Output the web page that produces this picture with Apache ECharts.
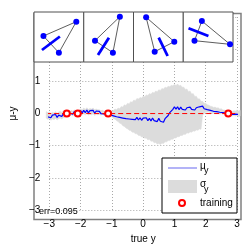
<!DOCTYPE html>
<html><head><meta charset="utf-8">
<script src="https://cdn.jsdelivr.net/npm/echarts@6/dist/echarts.min.js"></script>
<style>html,body{margin:0;padding:0;background:#fff}#c{width:249px;height:249px}</style>
</head><body><div id="c"></div>
<script>
// ---- data ----
const xs = [-3.1,-3.05,-3,-2.95,-2.9,-2.85,-2.8,-2.75,-2.7,-2.65,-2.6,-2.55,-2.5,-2.45,-2.4,-2.35,-2.3,-2.25,-2.2,-2.15,-2.1,-2.05,-2,-1.95,-1.9,-1.85,-1.8,-1.75,-1.7,-1.65,-1.6,-1.55,-1.5,-1.45,-1.4,-1.35,-1.3,-1.25,-1.2,-1.15,-1.1,-1.05,-1,-0.95,-0.9,-0.85,-0.8,-0.75,-0.7,-0.65,-0.6,-0.55,-0.5,-0.45,-0.4,-0.35,-0.3,-0.25,-0.2,-0.15,-0.1,-0.05,0,0.05,0.1,0.15,0.2,0.25,0.3,0.35,0.4,0.45,0.5,0.55,0.6,0.65,0.7,0.75,0.8,0.85,0.9,0.95,1,1.05,1.1,1.15,1.2,1.25,1.3,1.35,1.4,1.45,1.5,1.55,1.6,1.65,1.7,1.75,1.8,1.85,1.9,1.95,2,2.05,2.1,2.15,2.2,2.25,2.3,2.35,2.4,2.45,2.5,2.55,2.6,2.65,2.7,2.75,2.8,2.85,2.9,2.95,3,3.05,3.1];
const mu = [-0.02,-0.1,-0.04,-0.13,-0.05,-0.11,-0.03,-0.12,-0.05,-0.02,-0.09,0.0,-0.05,
0.02,-0.02,0.01,0.04,-0.02,0.06,0.0,0.03,0.01,0.09,0.02,0.1,0.03,0.11,0.02,0.09,0.03,0.1,0.01,0.08,0.02,0.07,0.0,0.06,-0.01,0.05,-0.02,0.03,-0.04,0.01,
-0.07,-0.01,-0.1,-0.06,-0.12,-0.08,-0.14,-0.09,-0.16,-0.11,-0.17,-0.12,-0.18,-0.13,-0.19,-0.12,-0.2,-0.13,-0.21,-0.14,-0.2,-0.13,-0.22,-0.15,-0.23,-0.14,-0.22,-0.16,-0.25,-0.15,-0.24,-0.19,-0.27,-0.16,-0.1,
-0.06,0.03,-0.01,0.13,0.21,
0.14,0.21,0.12,0.2,0.13,0.19,0.11,0.18,0.12,0.2,0.13,0.19,0.11,0.18,0.12,0.21,0.15,0.23,0.15,0.2,
0.12,0.17,0.1,0.15,0.07,0.13,0.06,0.12,0.04,0.1,0.03,0.08,0.01,0.04,-0.02,0.04,-0.03,0.03,-0.02,0.04,-0.03,0.02];
const bandHigh = [0.06,0.03,0.05,0.0,0.04,0.02,0.06,0.01,0.05,0.07,0.04,0.09,0.08,
0.06,0.07,0.05,0.1,0.07,0.11,0.08,0.06,0.1,0.15,0.12,0.17,0.13,0.18,0.13,0.16,0.14,0.17,0.12,0.14,0.12,0.12,0.09,0.1,0.07,0.08,0.05,0.07,0.06,0.08,
0.1,0.14,0.12,0.17,0.15,0.22,0.2,0.27,0.25,0.32,0.3,0.37,0.35,0.42,0.4,0.47,0.45,0.5,0.48,0.54,0.52,0.58,0.56,0.62,0.6,0.66,0.64,0.7,0.68,0.74,0.72,0.78,0.76,0.82,0.8,
0.85,0.83,0.88,0.86,0.91,0.87,0.92,0.86,0.88,0.82,0.82,0.75,0.76,0.68,0.7,0.61,0.62,0.53,0.54,0.45,0.46,0.38,0.38,0.32,0.32,
0.27,0.26,0.23,0.22,0.19,0.2,0.17,0.18,0.14,0.15,0.11,0.11,0.08,0.06,0.05,0.08,0.06,0.09,0.08,0.11,0.08,0.1];
const bandLow = [-0.14,-0.18,-0.16,-0.21,-0.17,-0.19,-0.15,-0.2,-0.16,-0.14,-0.17,-0.12,-0.13,
-0.06,-0.06,-0.09,-0.04,-0.07,-0.04,-0.06,-0.06,-0.04,-0.01,-0.04,-0.01,-0.04,0.0,-0.05,-0.02,-0.04,-0.01,-0.06,-0.02,-0.04,-0.02,-0.05,-0.02,-0.05,-0.02,-0.05,-0.05,-0.1,-0.1,
-0.15,-0.17,-0.22,-0.25,-0.3,-0.32,-0.38,-0.4,-0.45,-0.47,-0.52,-0.53,-0.58,-0.58,-0.63,-0.63,-0.68,-0.68,-0.73,-0.72,-0.77,-0.76,-0.82,-0.8,-0.86,-0.85,-0.91,-0.9,-0.95,-0.93,-0.96,-0.92,-0.93,-0.88,-0.88,
-0.84,-0.84,-0.8,-0.8,-0.76,-0.76,-0.72,-0.72,-0.68,-0.68,-0.64,-0.65,-0.6,-0.61,-0.57,-0.58,-0.54,-0.55,-0.51,-0.52,-0.48,-0.49,-0.05,0.0,0.04,
0.04,0.05,0.02,0.03,0.0,0.02,0.0,0.02,-0.02,0.0,-0.02,-0.01,-0.03,-0.03,-0.05,-0.03,-0.08,-0.06,-0.08,-0.06,-0.1,-0.08];
const trainX = [-2.44, -2.09, -1.12, 2.72];
const trainY = [0, 0, 0, 0];
const trueLineX = [-3.1, 3.1];
const trueLineY = [0, 0];
const errText = 'err=0.095';
// top panels (normalised 0..1 coordinates inside each panel)
const panel1Dots = [[0.85,0.806],[0.19,0.52],[0.50,0.186]];
const panel2Dots = [[0.726,0.906],[0.226,0.426],[0.586,0.186]];
const panel3Dots = [[0.254,0.894],[0.82,0.406],[0.426,0.206]];
const panel4Dots = [[0.374,0.82],[0.226,0.426],[0.94,0.354]];
const panel1Bar = [[0.16,0.24],[0.52,0.51]];
const panel2Bar = [[0.286,0.14],[0.506,0.486]];
const panel3Bar = [[0.506,0.486],[0.686,0.12]];
const panel4Bar = [[0.106,0.674],[0.506,0.52]];

// ---- chart ----
const FONT = 'Liberation Sans, Arial, sans-serif';
const chart = echarts.init(document.getElementById('c'), null, {renderer: 'canvas'});
const minus = v => String(v).replace('-', '\u2212');

const panelDots = [panel1Dots, panel2Dots, panel3Dots, panel4Dots];
const panelBars = [panel1Bar, panel2Bar, panel3Bar, panel4Bar];
const panelLefts = [34, 83.75, 133.5, 183.25];

const grids = [
  {left: 34, right: 8, top: 13.5, bottom: 29.5, show: true, backgroundColor: 'transparent', borderColor: '#808080', borderWidth: 1.5},
  {left: 37.5, right: 12, top: 17, bottom: 33}
];
const xAxes = [
  {gridIndex: 0, type: 'value', min: 0, max: 1, show: false},
  {gridIndex: 1, type: 'value', min: -3, max: 3, interval: 1,
   axisLine: {show: false}, axisTick: {show: false},
   splitLine: {show: true, lineStyle: {color: '#a8a8a8', type: [1, 2], width: 1}},
   axisLabel: {formatter: minus, color: '#000', fontSize: 10, fontFamily: FONT, margin: 9},
   name: 'true y', nameLocation: 'middle', nameGap: 20,
   nameTextStyle: {color: '#000', fontSize: 10, fontFamily: FONT}}
];
const yAxes = [
  {gridIndex: 0, type: 'value', min: 0, max: 1, show: false},
  {gridIndex: 1, type: 'value', min: -3, max: 3, interval: 1,
   axisLine: {show: false}, axisTick: {show: false},
   splitLine: {show: true, lineStyle: {color: '#a8a8a8', type: [1, 2], width: 1}},
   axisLabel: {formatter: minus, color: '#000', fontSize: 10, fontFamily: FONT, margin: 9},
   name: '\u03bc-y', nameLocation: 'middle', nameGap: 25, nameRotate: 90,
   nameTextStyle: {color: '#000', fontSize: 10, fontFamily: FONT}}
];
const series = [
  {type: 'custom', xAxisIndex: 1, yAxisIndex: 1, name: 'sigma', z: 2, silent: true,
   data: [[xs[0], bandLow[0]]],
   renderItem: function (params, api) {
     if (params.dataIndex !== 0) return;
     const pts = [];
     for (let i = 0; i < xs.length; i++) pts.push(api.coord([xs[i], bandHigh[i]]));
     for (let i = xs.length - 1; i >= 0; i--) pts.push(api.coord([xs[i], bandLow[i]]));
     return {type: 'polygon', shape: {points: pts}, style: {fill: '#dcdcdc', stroke: '#dcdcdc', lineWidth: 0.5}};
   }},
  {type: 'line', xAxisIndex: 1, yAxisIndex: 1, name: 'mu',
   data: xs.map((x, i) => [x, mu[i]]), symbol: 'none', lineStyle: {color: '#0000ff', width: 1.2}, clip: false, z: 3},
  {type: 'line', xAxisIndex: 1, yAxisIndex: 1, name: 'true',
   data: trueLineX.map((x, i) => [x, trueLineY[i]]), symbol: 'none',
   lineStyle: {color: '#ff0000', width: 1, type: [5, 3]}, clip: false, z: 4},
  {type: 'scatter', xAxisIndex: 1, yAxisIndex: 1, name: 'training',
   data: trainX.map((x, i) => [x, trainY[i]]), symbol: 'circle', symbolSize: 6,
   itemStyle: {color: '#fff', borderColor: '#ff0000', borderWidth: 2, opacity: 1}, z: 5}
];
panelDots.forEach((dots, p) => {
  const gi = grids.length;
  grids.push({left: panelLefts[p], top: 12, width: 49.75, height: 50, show: true,
    backgroundColor: '#fff', borderColor: '#505050', borderWidth: 1, z: 6});
  xAxes.push({gridIndex: gi, type: 'value', min: 0, max: 1, show: false});
  yAxes.push({gridIndex: gi, type: 'value', min: 0, max: 1, show: false});
  series.push({type: 'line', xAxisIndex: gi, yAxisIndex: gi, data: dots.concat([dots[0]]),
    symbol: 'none', lineStyle: {color: '#333', width: 0.8}, z: 10, silent: true});
  series.push({type: 'line', xAxisIndex: gi, yAxisIndex: gi, data: panelBars[p],
    symbol: 'none', lineStyle: {color: '#0000ff', width: 2.8, cap: 'butt'}, z: 11, silent: true});
  series.push({type: 'scatter', xAxisIndex: gi, yAxisIndex: gi, data: dots,
    symbolSize: 6, itemStyle: {color: '#0000ff', opacity: 1}, z: 12, silent: true});
});

const legendText = (x, y, t, size) => ({type: 'text', x: x, y: y, z: 100,
  style: {text: t, fill: '#000', font: size + 'px ' + FONT, textVerticalAlign: 'middle'}});

chart.setOption({
  animation: false,
  grid: grids, xAxis: xAxes, yAxis: yAxes, series: series,
  graphic: [
    {type: 'rect', z: 90, shape: {x: 162, y: 158, width: 75, height: 55},
     style: {fill: '#fff', stroke: '#000', lineWidth: 1}},
    {type: 'line', z: 100, shape: {x1: 168, y1: 168, x2: 197, y2: 168},
     style: {stroke: '#9a9af5', lineWidth: 1.5}},
    legendText(200, 166, '\u03bc', 10),
    legendText(204, 171, 'y', 9),
    {type: 'rect', z: 100, shape: {x: 168, y: 180, width: 29, height: 13},
     style: {fill: '#dcdcdc'}},
    legendText(200, 184, '\u03c3', 10),
    legendText(204, 190, 'y', 9),
    {type: 'circle', z: 100, shape: {cx: 182, cy: 203, r: 3},
     style: {fill: '#fff', stroke: '#ff0000', lineWidth: 2}},
    legendText(200, 203, 'training', 10),
    legendText(39, 212, errText, 9)
  ]
});
</script>
</body></html>
